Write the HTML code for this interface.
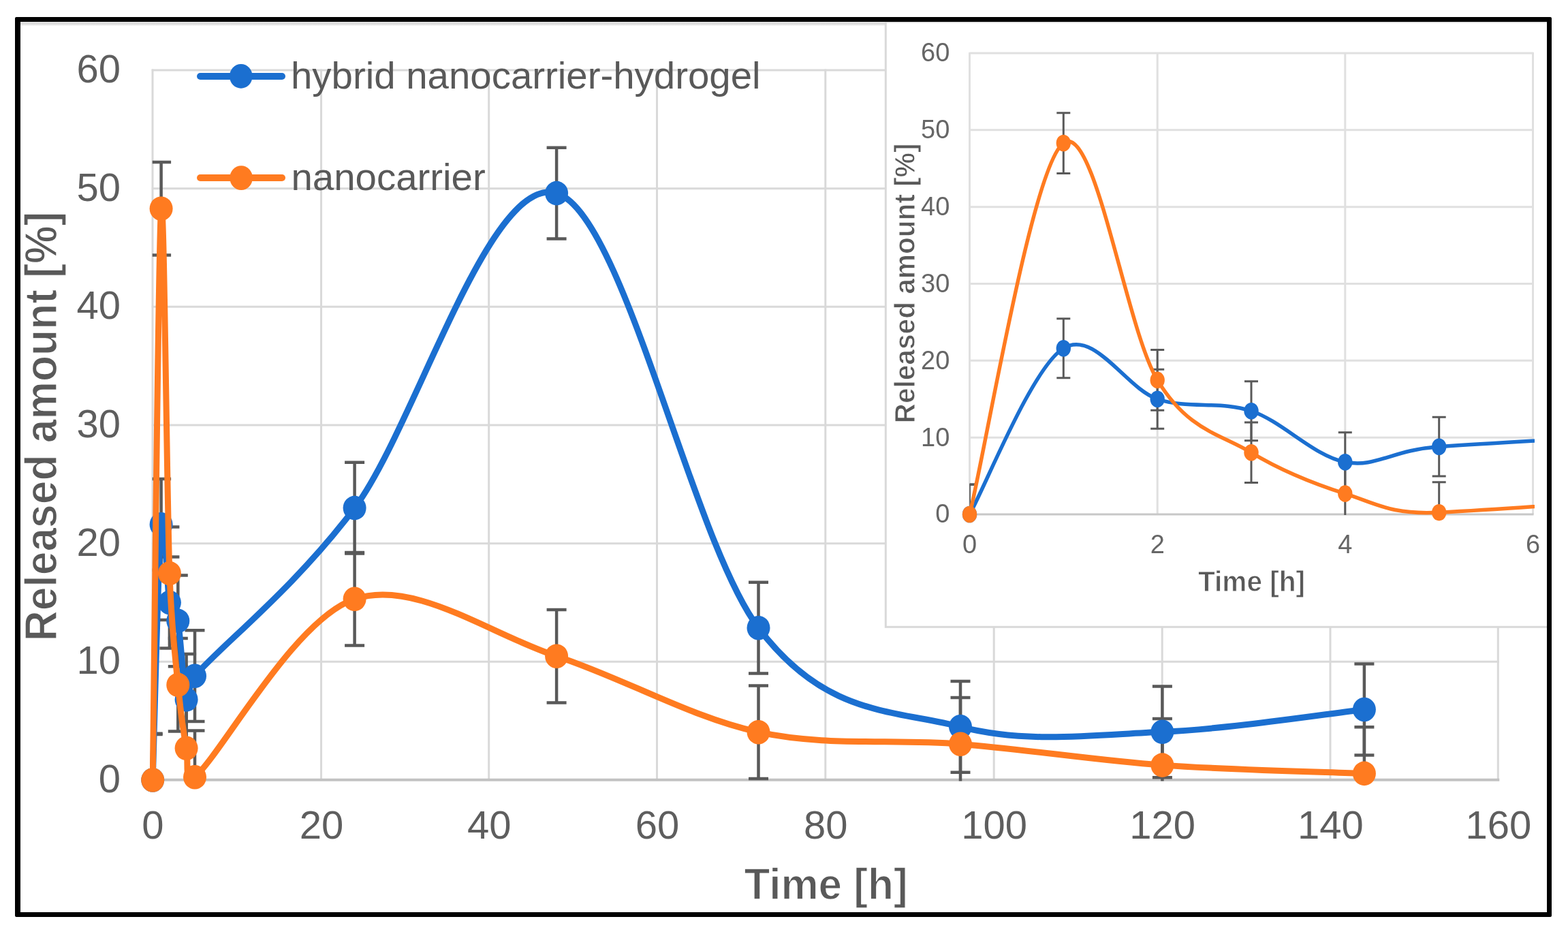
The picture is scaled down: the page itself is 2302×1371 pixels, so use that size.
<!DOCTYPE html><html><head><meta charset="utf-8"><title>Release profile</title>
<style>html,body{margin:0;padding:0;background:#fff;}body{width:2302px;height:1371px;overflow:hidden;}svg{display:block;}text{font-family:"Liberation Sans",Arial,sans-serif;}</style></head><body>
<svg width="2302" height="1371" viewBox="0 0 2302 1371">
<rect width="2302" height="1371" fill="#fff"/>
<defs><clipPath id="cm"><rect x="224.2" y="0.0" width="2015.1" height="1145.5"/></clipPath><clipPath id="ci"><rect x="1423.5" y="0.0" width="830.0" height="755.5"/></clipPath><linearGradient id="tb" x1="0" y1="0" x2="0" y2="1"><stop offset="0" stop-color="#e6e6e6"/><stop offset="0.5" stop-color="#dadada"/><stop offset="1" stop-color="#fafafa"/></linearGradient></defs>
<rect x="30" y="32" width="2241" height="6" fill="url(#tb)"/>
<g stroke="#d9d9d9" stroke-width="3"><line x1="222.7" y1="971.3" x2="2200.8" y2="971.3"/><line x1="222.7" y1="797.7" x2="2200.8" y2="797.7"/><line x1="222.7" y1="624.0" x2="2200.8" y2="624.0"/><line x1="222.7" y1="450.3" x2="2200.8" y2="450.3"/><line x1="222.7" y1="276.7" x2="2200.8" y2="276.7"/><line x1="222.7" y1="103.0" x2="2200.8" y2="103.0"/><line x1="224.0" y1="101.5" x2="224.0" y2="1145.0"/><line x1="471.5" y1="101.5" x2="471.5" y2="1145.0"/><line x1="717.7" y1="101.5" x2="717.7" y2="1145.0"/><line x1="964.5" y1="101.5" x2="964.5" y2="1145.0"/><line x1="1211.8" y1="101.5" x2="1211.8" y2="1145.0"/><line x1="1459.2" y1="101.5" x2="1459.2" y2="1145.0"/><line x1="1706.2" y1="101.5" x2="1706.2" y2="1145.0"/><line x1="1953.0" y1="101.5" x2="1953.0" y2="1145.0"/><line x1="2199.3" y1="101.5" x2="2199.3" y2="1145.0"/></g>
<line x1="222.2" y1="1144.7" x2="2201.3" y2="1144.7" stroke="#c2c2c2" stroke-width="4"/>
<g fill="#5e5e5e" font-size="58"><text x="177" y="1163.0" text-anchor="end">0</text><text x="177" y="989.3" text-anchor="end">10</text><text x="177" y="815.7" text-anchor="end">20</text><text x="177" y="642.0" text-anchor="end">30</text><text x="177" y="468.3" text-anchor="end">40</text><text x="177" y="294.7" text-anchor="end">50</text><text x="177" y="121.0" text-anchor="end">60</text><text x="224.5" y="1230.5" text-anchor="middle">0</text><text x="472.0" y="1230.5" text-anchor="middle">20</text><text x="718.2" y="1230.5" text-anchor="middle">40</text><text x="965.0" y="1230.5" text-anchor="middle">60</text><text x="1212.3" y="1230.5" text-anchor="middle">80</text><text x="1459.7" y="1230.5" text-anchor="middle">100</text><text x="1706.7" y="1230.5" text-anchor="middle">120</text><text x="1953.5" y="1230.5" text-anchor="middle">140</text><text x="2199.8" y="1230.5" text-anchor="middle">160</text></g>
<text transform="translate(1212.5,1320) scale(0.955,1)" text-anchor="middle" font-size="65" font-weight="bold" fill="#595959" stroke="#fff" stroke-width="1.3">Time [h]</text>
<text transform="translate(82.7,626) rotate(-90) scale(0.945,1)" text-anchor="middle" font-size="66" font-weight="bold" fill="#595959" stroke="#fff" stroke-width="1.3">Released amount [%]</text>
<clipPath id="cme"><rect x="223.7" y="73.0" width="2035.1" height="1073.5"/></clipPath>
<clipPath id="cmm"><rect x="184.2" y="63.0" width="2055.1" height="1122.0"/></clipPath>
<g clip-path="url(#cme)" stroke="#595959" stroke-width="4.5" fill="none"><path d="M224.2,1078.1V1211.9"/><path d="M209.7,1078.1H238.7M209.7,1211.9H238.7"/><path d="M236.6,703.0V836.7"/><path d="M222.1,703.0H251.1M222.1,836.7H251.1"/><path d="M248.9,817.6V951.4"/><path d="M234.4,817.6H263.4M234.4,951.4H263.4"/><path d="M261.3,844.6V978.3"/><path d="M246.8,844.6H275.8M246.8,978.3H275.8"/><path d="M273.6,960.0V1093.8"/><path d="M259.1,960.0H288.1M259.1,1093.8H288.1"/><path d="M286.0,925.3V1059.0"/><path d="M271.5,925.3H300.5M271.5,1059.0H300.5"/><path d="M520.6,678.7V812.4"/><path d="M506.1,678.7H535.1M506.1,812.4H535.1"/><path d="M817.1,216.8V350.5"/><path d="M802.6,216.8H831.6M802.6,350.5H831.6"/><path d="M1113.5,854.8V988.5"/><path d="M1099.0,854.8H1128.0M1099.0,988.5H1128.0"/><path d="M1410.0,1000.0V1133.7"/><path d="M1395.5,1000.0H1424.5M1395.5,1133.7H1424.5"/><path d="M1706.4,1007.5V1141.2"/><path d="M1691.9,1007.5H1720.9M1691.9,1141.2H1720.9"/><path d="M2002.9,974.6V1108.4"/><path d="M1988.4,974.6H2017.4M1988.4,1108.4H2017.4"/></g>
<g clip-path="url(#cme)" stroke="#595959" stroke-width="4.5" fill="none"><path d="M224.2,1076.7V1213.3"/><path d="M209.7,1076.7H238.7M209.7,1213.3H238.7"/><path d="M236.6,237.9V374.4"/><path d="M222.1,237.9H251.1M222.1,374.4H251.1"/><path d="M248.9,773.4V909.9"/><path d="M234.4,773.4H263.4M234.4,909.9H263.4"/><path d="M261.3,937.1V1073.6"/><path d="M246.8,937.1H275.8M246.8,1073.6H275.8"/><path d="M273.6,1030.0V1166.5"/><path d="M259.1,1030.0H288.1M259.1,1166.5H288.1"/><path d="M286.0,1072.4V1208.9"/><path d="M271.5,1072.4H300.5M271.5,1208.9H300.5"/><path d="M520.6,811.0V947.5"/><path d="M506.1,811.0H535.1M506.1,947.5H535.1"/><path d="M817.1,894.9V1031.4"/><path d="M802.6,894.9H831.6M802.6,1031.4H831.6"/><path d="M1113.5,1006.4V1142.9"/><path d="M1099.0,1006.4H1128.0M1099.0,1142.9H1128.0"/><path d="M1410.0,1024.0V1160.5"/><path d="M1395.5,1024.0H1424.5M1395.5,1160.5H1424.5"/><path d="M1706.4,1054.9V1191.4"/><path d="M1691.9,1054.9H1720.9M1691.9,1191.4H1720.9"/><path d="M2002.9,1067.2V1203.7"/><path d="M1988.4,1067.2H2017.4M1988.4,1203.7H2017.4"/></g>
<g clip-path="url(#cmm)"><path d="M224.20,1145.00 C226.26,1082.48 232.43,813.30 236.55,769.88 C240.67,726.46 244.79,860.91 248.90,884.50 C251.45,899.09 258.72,896.83 261.26,911.42 C265.37,935.15 269.49,1013.45 273.61,1026.91 C277.73,1040.37 273.80,1006.02 285.96,992.17 C327.13,945.28 432.13,863.66 520.65,745.57 C609.17,627.47 718.28,254.26 817.10,283.61 C915.91,312.96 1014.73,791.13 1113.54,921.66 C1212.36,1052.20 1311.18,1041.41 1409.99,1066.85 C1508.81,1092.29 1607.62,1078.54 1706.44,1074.32 C1805.26,1070.09 1953.48,1046.97 2002.89,1041.49" fill="none" stroke="#1b6fd0" stroke-width="9.0" stroke-linejoin="round" stroke-linecap="round"/><ellipse cx="224.2" cy="1145.0" rx="17.0" ry="17.8" fill="#1b6fd0"/><ellipse cx="236.6" cy="769.9" rx="17.0" ry="17.8" fill="#1b6fd0"/><ellipse cx="248.9" cy="884.5" rx="17.0" ry="17.8" fill="#1b6fd0"/><ellipse cx="261.3" cy="911.4" rx="17.0" ry="17.8" fill="#1b6fd0"/><ellipse cx="273.6" cy="1026.9" rx="17.0" ry="17.8" fill="#1b6fd0"/><ellipse cx="286.0" cy="992.2" rx="17.0" ry="17.8" fill="#1b6fd0"/><ellipse cx="520.6" cy="745.6" rx="17.0" ry="17.8" fill="#1b6fd0"/><ellipse cx="817.1" cy="283.6" rx="17.0" ry="17.8" fill="#1b6fd0"/><ellipse cx="1113.5" cy="921.7" rx="17.0" ry="17.8" fill="#1b6fd0"/><ellipse cx="1410.0" cy="1066.8" rx="17.0" ry="17.8" fill="#1b6fd0"/><ellipse cx="1706.4" cy="1074.3" rx="17.0" ry="17.8" fill="#1b6fd0"/><ellipse cx="2002.9" cy="1041.5" rx="17.0" ry="17.8" fill="#1b6fd0"/></g>
<g clip-path="url(#cmm)"><path d="M224.20,1145.00 C226.26,1005.20 232.43,356.76 236.55,306.19 C240.67,255.62 244.79,725.07 248.90,841.60 C251.80,923.67 257.14,962.59 261.26,1005.37 C265.37,1048.15 269.49,1075.74 273.61,1098.28 C277.57,1119.99 269.45,1155.30 285.96,1140.66 C327.13,1104.16 432.13,908.87 520.65,879.29 C609.17,849.71 718.28,930.61 817.10,963.17 C915.91,995.73 1014.73,1053.16 1113.54,1074.66 C1212.36,1096.17 1311.18,1084.13 1409.99,1092.21 C1508.81,1100.28 1607.62,1115.91 1706.44,1123.12 C1805.26,1130.33 1953.48,1133.39 2002.89,1135.45" fill="none" stroke="#ff7b20" stroke-width="9.0" stroke-linejoin="round" stroke-linecap="round"/><ellipse cx="224.2" cy="1145.0" rx="17.0" ry="17.8" fill="#ff7b20"/><ellipse cx="236.6" cy="306.2" rx="17.0" ry="17.8" fill="#ff7b20"/><ellipse cx="248.9" cy="841.6" rx="17.0" ry="17.8" fill="#ff7b20"/><ellipse cx="261.3" cy="1005.4" rx="17.0" ry="17.8" fill="#ff7b20"/><ellipse cx="273.6" cy="1098.3" rx="17.0" ry="17.8" fill="#ff7b20"/><ellipse cx="286.0" cy="1140.7" rx="17.0" ry="17.8" fill="#ff7b20"/><ellipse cx="520.6" cy="879.3" rx="17.0" ry="17.8" fill="#ff7b20"/><ellipse cx="817.1" cy="963.2" rx="17.0" ry="17.8" fill="#ff7b20"/><ellipse cx="1113.5" cy="1074.7" rx="17.0" ry="17.8" fill="#ff7b20"/><ellipse cx="1410.0" cy="1092.2" rx="17.0" ry="17.8" fill="#ff7b20"/><ellipse cx="1706.4" cy="1123.1" rx="17.0" ry="17.8" fill="#ff7b20"/><ellipse cx="2002.9" cy="1135.4" rx="17.0" ry="17.8" fill="#ff7b20"/></g>
<g stroke-linecap="round"><line x1="294" y1="112" x2="414" y2="112" stroke="#1b6fd0" stroke-width="10"/><ellipse cx="353.8" cy="111.8" rx="16.8" ry="17.9" fill="#1b6fd0"/><line x1="294" y1="261" x2="414" y2="261" stroke="#ff7b20" stroke-width="10"/><ellipse cx="354.1" cy="261.1" rx="16.8" ry="17.9" fill="#ff7b20"/></g>
<g fill="#595959" font-size="56.4"><text x="427" y="130">hybrid nanocarrier-hydrogel</text><text x="427.5" y="279">nanocarrier</text></g>
<rect x="1300.3" y="32" width="973" height="888.3" fill="#fff" stroke="#d9d9d9" stroke-width="3"/>
<g stroke="#e0e0e0" stroke-width="3"><line x1="1423.5" y1="642.2" x2="2251.5" y2="642.2"/><line x1="1423.5" y1="529.3" x2="2251.5" y2="529.3"/><line x1="1423.5" y1="416.5" x2="2251.5" y2="416.5"/><line x1="1423.5" y1="303.7" x2="2251.5" y2="303.7"/><line x1="1423.5" y1="190.8" x2="2251.5" y2="190.8"/><line x1="1423.5" y1="78.0" x2="2251.5" y2="78.0"/><line x1="1423.5" y1="77.0" x2="1423.5" y2="755.0"/><line x1="1699.2" y1="77.0" x2="1699.2" y2="755.0"/><line x1="1974.8" y1="77.0" x2="1974.8" y2="755.0"/><line x1="2250.5" y1="77.0" x2="2250.5" y2="755.0"/></g>
<line x1="1423.5" y1="755.0" x2="2251.5" y2="755.0" stroke="#c8c8c8" stroke-width="3"/>
<g fill="#666" font-size="38"><text x="1394.3" y="767.3" text-anchor="end">0</text><text x="1394.3" y="654.5" text-anchor="end">10</text><text x="1394.3" y="541.6" text-anchor="end">20</text><text x="1394.3" y="428.8" text-anchor="end">30</text><text x="1394.3" y="316.0" text-anchor="end">40</text><text x="1394.3" y="203.1" text-anchor="end">50</text><text x="1394.3" y="90.3" text-anchor="end">60</text><text x="1423.5" y="812" text-anchor="middle">0</text><text x="1699.2" y="812" text-anchor="middle">2</text><text x="1974.8" y="812" text-anchor="middle">4</text><text x="2250.5" y="812" text-anchor="middle">6</text></g>
<text transform="translate(1837.5,868) scale(0.96,1)" text-anchor="middle" font-size="42.3" font-weight="bold" fill="#595959" stroke="#fff" stroke-width="0.9">Time [h]</text>
<text transform="translate(1343.3,416) rotate(-90) scale(0.945,1)" text-anchor="middle" font-size="43" font-weight="bold" fill="#595959" stroke="#fff" stroke-width="0.9">Released amount [%]</text>
<clipPath id="cie"><rect x="1423.5" y="48.0" width="829.0" height="708.0"/></clipPath>
<clipPath id="cil"><rect x="1403.5" y="48.0" width="849.5" height="737.0"/></clipPath>
<g clip-path="url(#cie)" stroke="#595959" stroke-width="3.0" fill="none"><path d="M1423.5,711.6V798.4"/><path d="M1413.5,711.6H1433.5M1413.5,798.4H1433.5"/><path d="M1561.3,467.8V554.7"/><path d="M1551.3,467.8H1571.3M1551.3,554.7H1571.3"/><path d="M1699.2,542.3V629.2"/><path d="M1689.2,542.3H1709.2M1689.2,629.2H1709.2"/><path d="M1837.0,559.8V646.7"/><path d="M1827.0,559.8H1847.0M1827.0,646.7H1847.0"/><path d="M1974.8,634.8V721.7"/><path d="M1964.8,634.8H1984.8M1964.8,721.7H1984.8"/><path d="M2112.7,612.3V699.1"/><path d="M2102.7,612.3H2122.7M2102.7,699.1H2122.7"/><path d="M4731.5,452.0V538.9"/><path d="M4721.5,452.0H4741.5M4721.5,538.9H4741.5"/><path d="M8039.5,151.9V238.8"/><path d="M8029.5,151.9H8049.5M8029.5,238.8H8049.5"/><path d="M11347.5,566.5V653.3"/><path d="M11337.5,566.5H11357.5M11337.5,653.3H11357.5"/><path d="M14655.5,660.8V747.7"/><path d="M14645.5,660.8H14665.5M14645.5,747.7H14665.5"/><path d="M17963.5,665.6V752.5"/><path d="M17953.5,665.6H17973.5M17953.5,752.5H17973.5"/><path d="M21271.5,644.3V731.2"/><path d="M21261.5,644.3H21281.5M21261.5,731.2H21281.5"/></g>
<g clip-path="url(#cie)" stroke="#595959" stroke-width="3.0" fill="none"><path d="M1423.5,710.7V799.3"/><path d="M1413.5,710.7H1433.5M1413.5,799.3H1433.5"/><path d="M1561.3,165.7V254.4"/><path d="M1551.3,165.7H1571.3M1551.3,254.4H1571.3"/><path d="M1699.2,513.5V602.2"/><path d="M1689.2,513.5H1709.2M1689.2,602.2H1709.2"/><path d="M1837.0,619.9V708.6"/><path d="M1827.0,619.9H1847.0M1827.0,708.6H1847.0"/><path d="M1974.8,680.3V769.0"/><path d="M1964.8,680.3H1984.8M1964.8,769.0H1984.8"/><path d="M2112.7,707.8V796.5"/><path d="M2102.7,707.8H2122.7M2102.7,796.5H2122.7"/><path d="M4731.5,538.0V626.7"/><path d="M4721.5,538.0H4741.5M4721.5,626.7H4741.5"/><path d="M8039.5,592.5V681.2"/><path d="M8029.5,592.5H8049.5M8029.5,681.2H8049.5"/><path d="M11347.5,665.0V753.6"/><path d="M11337.5,665.0H11357.5M11337.5,753.6H11357.5"/><path d="M14655.5,676.4V765.0"/><path d="M14645.5,676.4H14665.5M14645.5,765.0H14665.5"/><path d="M17963.5,696.4V785.1"/><path d="M17953.5,696.4H17973.5M17953.5,785.1H17973.5"/><path d="M21271.5,704.5V793.1"/><path d="M21261.5,704.5H21281.5M21261.5,793.1H21281.5"/></g>
<g clip-path="url(#cil)"><path d="M1423.50,755.00 C1446.47,714.38 1515.39,539.49 1561.33,511.28 C1607.28,483.07 1653.22,570.42 1699.17,585.75 C1745.11,601.08 1791.06,587.82 1837.00,603.24 C1882.94,618.66 1928.89,669.53 1974.83,678.27 C2020.78,687.02 2042.99,660.33 2112.67,655.71 C2572.11,625.24 3743.69,572.21 4731.50,495.48 C5719.31,418.76 6936.83,176.28 8039.50,195.35 C9142.17,214.42 10244.83,525.08 11347.50,609.90 C12450.17,694.71 13552.83,687.69 14655.50,704.23 C15758.17,720.76 16860.83,711.82 17963.50,709.08 C19066.17,706.33 20720.17,691.31 21271.50,687.75" fill="none" stroke="#1b6fd0" stroke-width="5.5" stroke-linejoin="round" stroke-linecap="round"/><ellipse cx="1423.5" cy="755.0" rx="10.7" ry="12.3" fill="#1b6fd0"/><ellipse cx="1561.3" cy="511.3" rx="10.7" ry="12.3" fill="#1b6fd0"/><ellipse cx="1699.2" cy="585.8" rx="10.7" ry="12.3" fill="#1b6fd0"/><ellipse cx="1837.0" cy="603.2" rx="10.7" ry="12.3" fill="#1b6fd0"/><ellipse cx="1974.8" cy="678.3" rx="10.7" ry="12.3" fill="#1b6fd0"/><ellipse cx="2112.7" cy="655.7" rx="10.7" ry="12.3" fill="#1b6fd0"/><ellipse cx="4731.5" cy="495.5" rx="10.7" ry="12.3" fill="#1b6fd0"/><ellipse cx="8039.5" cy="195.3" rx="10.7" ry="12.3" fill="#1b6fd0"/><ellipse cx="11347.5" cy="609.9" rx="10.7" ry="12.3" fill="#1b6fd0"/><ellipse cx="14655.5" cy="704.2" rx="10.7" ry="12.3" fill="#1b6fd0"/><ellipse cx="17963.5" cy="709.1" rx="10.7" ry="12.3" fill="#1b6fd0"/><ellipse cx="21271.5" cy="687.8" rx="10.7" ry="12.3" fill="#1b6fd0"/></g>
<g clip-path="url(#cil)"><path d="M1423.50,755.00 C1446.47,664.17 1515.39,242.87 1561.33,210.01 C1607.28,177.16 1653.22,482.17 1699.17,557.88 C1744.33,632.31 1791.06,636.49 1837.00,664.28 C1882.94,692.08 1928.89,710.00 1974.83,724.65 C2020.78,739.30 2042.48,755.80 2112.67,752.18 C2572.11,728.47 3743.69,601.58 4731.50,582.37 C5719.31,563.15 6936.83,615.71 8039.50,636.86 C9142.17,658.02 10244.83,695.33 11347.50,709.30 C12450.17,723.28 13552.83,715.45 14655.50,720.70 C15758.17,725.95 16860.83,736.10 17963.50,740.78 C19066.17,745.47 20720.17,747.46 21271.50,748.79" fill="none" stroke="#ff7b20" stroke-width="5.5" stroke-linejoin="round" stroke-linecap="round"/><ellipse cx="1423.5" cy="755.0" rx="10.7" ry="12.3" fill="#ff7b20"/><ellipse cx="1561.3" cy="210.0" rx="10.7" ry="12.3" fill="#ff7b20"/><ellipse cx="1699.2" cy="557.9" rx="10.7" ry="12.3" fill="#ff7b20"/><ellipse cx="1837.0" cy="664.3" rx="10.7" ry="12.3" fill="#ff7b20"/><ellipse cx="1974.8" cy="724.6" rx="10.7" ry="12.3" fill="#ff7b20"/><ellipse cx="2112.7" cy="752.2" rx="10.7" ry="12.3" fill="#ff7b20"/><ellipse cx="4731.5" cy="582.4" rx="10.7" ry="12.3" fill="#ff7b20"/><ellipse cx="8039.5" cy="636.9" rx="10.7" ry="12.3" fill="#ff7b20"/><ellipse cx="11347.5" cy="709.3" rx="10.7" ry="12.3" fill="#ff7b20"/><ellipse cx="14655.5" cy="720.7" rx="10.7" ry="12.3" fill="#ff7b20"/><ellipse cx="17963.5" cy="740.8" rx="10.7" ry="12.3" fill="#ff7b20"/><ellipse cx="21271.5" cy="748.8" rx="10.7" ry="12.3" fill="#ff7b20"/></g>
<path fill-rule="evenodd" fill="#000" d="M24,25H2276Q2278,25 2278,27V1344Q2278,1346 2276,1346H24Q22,1346 22,1344V27Q22,25 24,25Z M30,32V1339H2271V32Z"/>
</svg></body></html>
